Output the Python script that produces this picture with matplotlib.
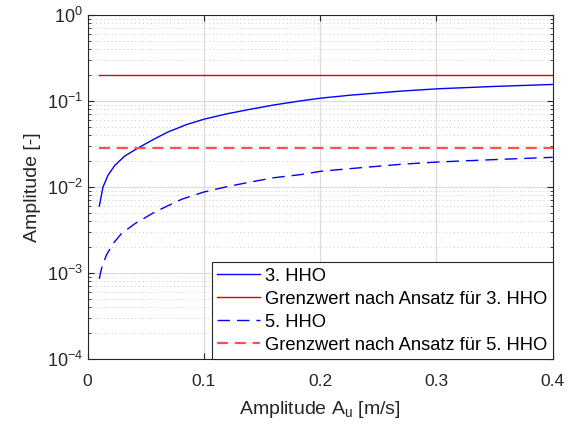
import matplotlib
matplotlib.use("Agg")
import matplotlib.pyplot as plt
from matplotlib.ticker import LogLocator, NullFormatter, FixedLocator

plt.rcParams['font.family'] = ['Liberation Sans', 'DejaVu Sans']
plt.rcParams['mathtext.fontset'] = 'custom'
plt.rcParams['mathtext.rm'] = 'Liberation Sans'
plt.rcParams['mathtext.it'] = 'Liberation Sans:italic'

# values
x_hho3 = [0.01, 0.0132, 0.0175, 0.0233, 0.032, 0.0434, 0.0578, 0.0693, 0.085, 0.1,
          0.12, 0.1402, 0.16, 0.1834, 0.2007, 0.2265, 0.2697, 0.301, 0.35, 0.4]
y_hho3 = [0.0060, 0.0100, 0.0137, 0.0178, 0.0229, 0.0284, 0.0364, 0.0436, 0.053, 0.0612,
          0.0708, 0.080, 0.0895, 0.100, 0.1075, 0.1165, 0.1297, 0.138, 0.147, 0.155]
x_hho5 = [0.01, 0.0118, 0.016, 0.0218, 0.029, 0.0406, 0.0578, 0.0808, 0.1, 0.12,
          0.1402, 0.16, 0.1834, 0.2007, 0.2265, 0.2697, 0.301, 0.35, 0.4]
y_hho5 = [0.00086, 0.00112, 0.00161, 0.0022, 0.00287, 0.00375, 0.00513, 0.0072, 0.00875, 0.0101,
          0.01143, 0.0128, 0.01393, 0.01524, 0.01637, 0.01836, 0.0195, 0.0208, 0.0221]
x_limit = [0.01, 0.4]
limit3 = 0.2
limit5 = 0.0284

labels = ['3. HHO', 'Grenzwert nach Ansatz für 3. HHO',
          '5. HHO', 'Grenzwert nach Ansatz für 5. HHO']
xticks = [0, 0.1, 0.2, 0.3, 0.4]
xticklabels = ['0', '0.1', '0.2', '0.3', '0.4']

fig = plt.figure(figsize=(5.73, 4.28), dpi=100)
ax = fig.add_axes([0.153, 0.1605, 0.8116, 0.8052])

ax.plot(x_hho3, y_hho3, color='#0000ff', lw=1.0, label=labels[0])
ax.plot(x_limit, [limit3, limit3], color='#dd0000', lw=1.0, label=labels[1])
ax.plot(x_hho5, y_hho5, color='#0000ff', lw=1.0, ls=(0, (9, 5)), label=labels[2])
ax.plot(x_limit, [limit5, limit5], color='#ff5050', lw=1.6, ls=(0, (5, 3)), label=labels[3])

ax.set_yscale('log')
ax.set_xlim(0, 0.4)
ax.set_ylim(1e-4, 1)
ax.xaxis.set_major_locator(FixedLocator(xticks))
ax.set_xticklabels(xticklabels)
ax.yaxis.set_major_locator(LogLocator(base=10, numticks=10))
ax.yaxis.set_minor_locator(LogLocator(base=10, subs=range(2, 10), numticks=20))
ax.yaxis.set_minor_formatter(NullFormatter())

ax.grid(True, which='major', color='#dcdcdc', lw=0.9)
ax.grid(True, which='minor', axis='y', color='#c8c8c8', lw=0.7, ls=(0, (1, 3)))
ax.set_axisbelow(True)

ax.tick_params(which='both', direction='in', top=True, right=True,
               colors='#262626', labelcolor='#262626', labelsize=12.5)
ax.tick_params(which='major', length=4, width=0.8)
ax.tick_params(which='minor', length=2.5, width=0.6)
ax.tick_params(axis='x', pad=10.5)
ax.tick_params(axis='y', labelsize=13)
for s in ax.spines.values():
    s.set_color('#262626')
    s.set_linewidth(0.8)

ax.set_xlabel('Amplitude A$_\\mathrm{u}$ [m/s]', fontsize=14, color='#262626', labelpad=7)
ax.set_ylabel('Amplitude [-]', fontsize=14, color='#262626')

leg = ax.legend(loc='lower right', bbox_to_anchor=(1, 0), borderaxespad=0,
                fontsize=13.2, fancybox=False, framealpha=1, edgecolor='#262626',
                handlelength=2.35, handletextpad=0.25, labelspacing=0.33,
                borderpad=0.3)
leg.get_frame().set_linewidth(0.8)

fig.savefig('out.png', dpi=100)
